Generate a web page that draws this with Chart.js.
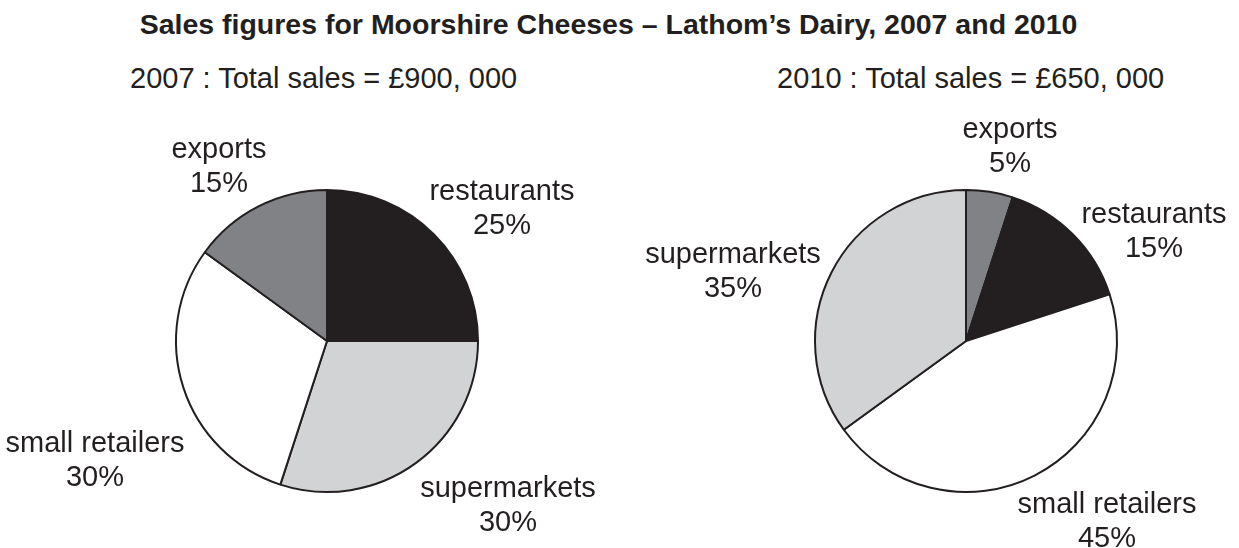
<!DOCTYPE html>
<html>
<head>
<meta charset="utf-8">
<script src="https://cdn.jsdelivr.net/npm/chart.js@4"></script>
<style>
  body { margin: 0; background: #fff; }
  #wrap { position: relative; width: 1239px; height: 548px; font-family: "Liberation Sans", Arial, sans-serif; color: #231f20; }
  #title { position: absolute; left: 0; width: 1217px; top: 10px; text-align: center; font-weight: bold; font-size: 28.5px; line-height: 28.5px; white-space: nowrap; }
  .sub { position: absolute; top: 64px; font-size: 29px; line-height: 29px; white-space: nowrap; }
  canvas { position: absolute; top: 0; }
</style>
</head>
<body>
<div id="wrap">
  <div id="title">Sales figures for Moorshire Cheeses – Lathom’s Dairy, 2007 and 2010</div>
  <div class="sub" style="left:130px">2007 : Total sales = £900, 000</div>
  <div class="sub" style="left:777px">2010 : Total sales = £650, 000</div>
  <canvas id="pie2007" width="620" height="548" style="left:0"></canvas>
  <canvas id="pie2010" width="619" height="548" style="left:620px"></canvas>
</div>
<script>
// 2007, clockwise from 12 o'clock
const labels2007 = ['restaurants', 'supermarkets', 'small retailers', 'exports'];
const values2007 = [25, 30, 30, 15];

// 2010, clockwise from 12 o'clock
const labels2010 = ['exports', 'restaurants', 'small retailers', 'supermarkets'];
const values2010 = [5, 15, 45, 35];

const COLOURS = {
  'restaurants': '#231f20',
  'supermarkets': '#d1d3d4',
  'small retailers': '#ffffff',
  'exports': '#808285'
};

// where each label's first baseline sits, relative to the pie centre
const offsets2007 = [[175, -141], [181, 156], [-232, 111], [-108, -183]];
const offsets2010 = [[44, -203], [188, -118], [141, 172], [-233, -78]];

const outsideLabels = {
  id: 'outsideLabels',
  afterDraw(chart, args, opts) {
    const ctx = chart.ctx;
    const arcs = chart.getDatasetMeta(0).data;
    const cx = arcs[0].x, cy = arcs[0].y;
    ctx.save();
    ctx.fillStyle = '#231f20';
    ctx.font = '29px "Liberation Sans", Arial, sans-serif';
    ctx.textAlign = 'center';
    ctx.textBaseline = 'alphabetic';
    chart.data.labels.forEach((lab, i) => {
      const [dx, dy] = opts.offsets[i];
      ctx.fillText(lab, cx + dx, cy + dy);
      ctx.fillText(chart.data.datasets[0].data[i] + '%', cx + dx, cy + dy + 34);
    });
    ctx.restore();
  }
};

function renderPie(id, labels, values, offsets, padLeft, padRight) {
  return new Chart(document.getElementById(id), {
    type: 'pie',
    data: {
      labels: labels,
      datasets: [{
        data: values,
        backgroundColor: labels.map(l => COLOURS[l]),
        borderColor: '#231f20',
        borderWidth: 2,
        radius: 151
      }]
    },
    options: {
      responsive: false,
      animation: false,
      devicePixelRatio: 1,
      layout: { padding: { left: padLeft, right: padRight, top: 181, bottom: 47 } },
      plugins: {
        legend: { display: false },
        tooltip: { enabled: false },
        outsideLabels: { offsets: offsets }
      }
    },
    plugins: [outsideLabels]
  });
}

renderPie('pie2007', labels2007, values2007, offsets2007, 167, 133);
renderPie('pie2010', labels2010, values2010, offsets2010, 186, 113);
</script>
</body>
</html>
